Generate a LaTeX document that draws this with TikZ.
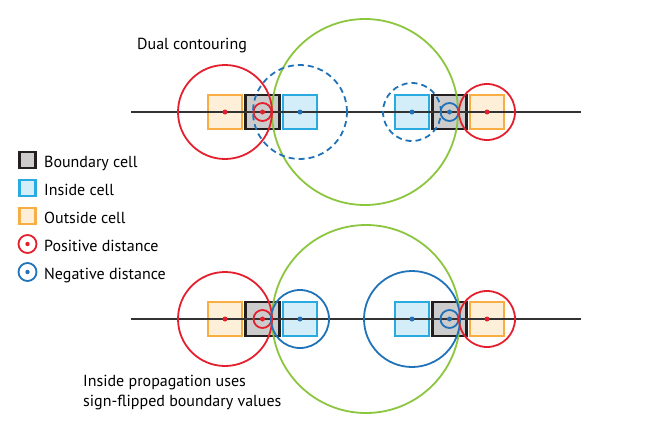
\documentclass[tikz,border=0pt]{standalone}
\usepackage{fontspec}
\setmainfont{PT Sans}
\usetikzlibrary{positioning}
\definecolor{outorange}{HTML}{F9AE43}
\definecolor{inblue}{HTML}{29ABE2}
\definecolor{boundgray}{HTML}{CCCCCC}
\definecolor{boundblack}{HTML}{231F20}
\definecolor{posred}{HTML}{E5202E}
\definecolor{negblue}{HTML}{2173B9}
\definecolor{shellgreen}{HTML}{8CC63F}
\definecolor{axisgray}{HTML}{333333}

\begin{document}
\begin{tikzpicture}[
        x=1pt, y=-1pt,
        font=\fontsize{16}{19.5}\selectfont,
        cell/.style={rectangle, draw=#1, line width=2.2pt, minimum size=34pt, inner sep=0pt, outer sep=0pt},
        bcell/.style={cell=boundblack, fill=boundgray},
        icell/.style={cell=inblue, fill=inblue!20},
        ocell/.style={cell=outorange, fill=outorange!20},
        posring/.style={draw=posred, line width=1.8pt},
        negring/.style={draw=negblue, line width=1.8pt},
        negdash/.style={negring, dash pattern=on 6pt off 4pt},
        shell/.style={draw=shellgreen, line width=1.8pt},
        posdot/.style={fill=posred},
        negdot/.style={fill=negblue},
        axis/.style={draw=axisgray, line width=1.8pt},
        legend/.style={anchor=base west, inner sep=0pt},
    ]
    \useasboundingbox (0,0) rectangle (656,431);

    % top row: dual contouring
    \node[ocell] (to1) at (225,112) {};
    \node[bcell, right=3.5pt of to1] (tb1) {};
    \node[icell, right=3.5pt of tb1] (ti1) {};
    \node[icell] (ti2) at (412,112) {};
    \node[bcell, right=3.5pt of ti2] (tb2) {};
    \node[ocell, right=3.5pt of tb2] (to2) {};
    \coordinate (tl) at (131,112);
    \coordinate (tr) at (581,112);
    \draw[axis] (tl) -- (tr);
    \draw[shell] (365,112) circle (93pt);
    \draw[posring] (to1.center) circle (47pt);
    \draw[posring] (tb1.center) circle (9pt);
    \draw[negdash] (ti1.center) circle (47pt);
    \draw[negdash] (ti2.center) circle (29pt);
    \draw[negring] (tb2.center) circle (9pt);
    \draw[posring] (to2.center) circle (28pt);
    \fill[posdot] (to1.center) circle (2.5pt) (tb1.center) circle (2.5pt) (to2.center) circle (2.5pt);
    \fill[negdot] (ti1.center) circle (2.5pt) (ti2.center) circle (2.5pt) (tb2.center) circle (2.5pt);
    \node[legend] (dual) at (137,49) {Dual contouring};

    % bottom row: inside propagation
    \node[ocell] (bo1) at (225,319) {};
    \node[bcell, right=3.5pt of bo1] (bb1) {};
    \node[icell, right=3.5pt of bb1] (bi1) {};
    \node[icell] (bi2) at (412,319) {};
    \node[bcell, right=3.5pt of bi2] (bb2) {};
    \node[ocell, right=3.5pt of bb2] (bo2) {};
    \coordinate (bl) at (131,319);
    \coordinate (br) at (581,319);
    \draw[axis] (bl) -- (br);
    \draw[shell] (366,319) circle (94pt);
    \draw[posring] (bo1.center) circle (47pt);
    \draw[posring] (bb1.center) circle (9pt);
    \draw[negring] (bi1.center) circle (29pt);
    \draw[negring] (bi2.center) circle (48pt);
    \draw[negring] (bb2.center) circle (9pt);
    \draw[posring] (bo2.center) circle (28pt);
    \fill[posdot] (bo1.center) circle (2.5pt) (bb1.center) circle (2.5pt) (bo2.center) circle (2.5pt);
    \fill[negdot] (bi1.center) circle (2.5pt) (bi2.center) circle (2.5pt) (bb2.center) circle (2.5pt);
    \node[legend, align=left] (prop) at (83,406) {Inside propagation uses\\sign-flipped boundary values};

    % legend
    \node[bcell, minimum size=16pt] (lgb) at (27.5,160) {};
    \node[icell, minimum size=16pt] (lgi) at (27.5,188) {};
    \node[ocell, minimum size=16pt] (lgo) at (27.5,216) {};
    \draw[posring] (27.5,244) coordinate (lgp) circle (9pt);
    \fill[posdot] (lgp) circle (2.2pt);
    \draw[negring] (27.5,272) coordinate (lgn) circle (9pt);
    \fill[negdot] (lgn) circle (2.2pt);
    \node[legend] (tbound) at (44,167) {Boundary cell};
    \node[legend] (tin) at (44,195) {Inside cell};
    \node[legend] (tout) at (44,223) {Outside cell};
    \node[legend] (tpos) at (44,251) {Positive distance};
    \node[legend] (tneg) at (44,279) {Negative distance};
\end{tikzpicture}
\end{document}
